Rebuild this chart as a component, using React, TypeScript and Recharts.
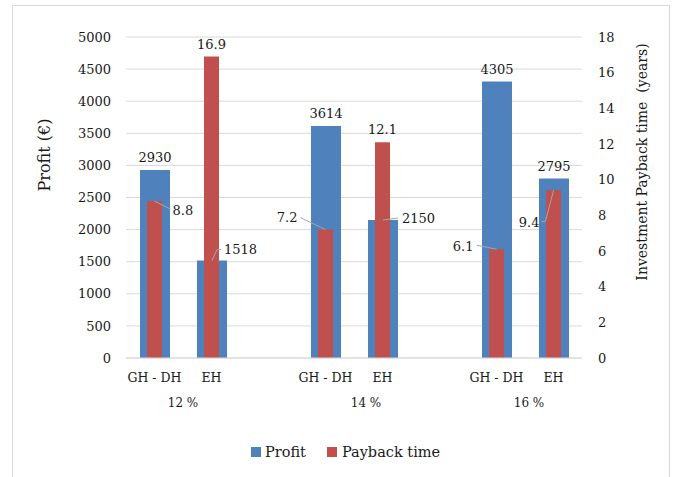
import {
  ComposedChart, Bar, XAxis, YAxis, CartesianGrid, Legend, LabelList,
} from 'recharts';

const categories = ['GH - DH', 'EH', '', 'GH - DH', 'EH', '', 'GH - DH', 'EH'];
const groups = ['12 %', '', '', '14 %', '', '', '16 %', ''];
const profit = [2930, 1518, null, 3614, 2150, null, 4305, 2795];
const payback = [8.8, 16.9, null, 7.2, 12.1, null, 6.1, 9.4];
const profitTicks = [0, 500, 1000, 1500, 2000, 2500, 3000, 3500, 4000, 4500, 5000];
const paybackTicks = [0, 2, 4, 6, 8, 10, 12, 14, 16, 18];

const data = categories.map((name, i) => ({
  name,
  group: groups[i],
  profit: profit[i],
  payback: payback[i],
}));

const FONT = '"DejaVu Serif", "Liberation Serif", serif';
const BLUE = '#4F81BD';
const RED = '#C0504D';
const TEXT = '#1a1a1a';
const GRID = '#d9d9d9';

// where each data label sits relative to the top centre of its bar
type Spec =
  | { kind: 'top' }
  | { kind: 'side'; leader: number[][]; tx: number; ty: number; anchor: 'start' | 'end' };

const TOP: Spec = { kind: 'top' };
const profitLabelSpecs: (Spec | null)[] = [
  TOP,
  { kind: 'side', leader: [[5, -11], [9, -11]], tx: 12, ty: -11, anchor: 'start' },
  null,
  TOP,
  { kind: 'side', leader: [[15, -2]], tx: 19, ty: -1, anchor: 'start' },
  null,
  TOP,
  TOP,
];
const paybackLabelSpecs: (Spec | null)[] = [
  { kind: 'side', leader: [[16, 8]], tx: 18, ty: 9, anchor: 'start' },
  TOP,
  null,
  { kind: 'side', leader: [[-25, -12]], tx: -28, ty: -12, anchor: 'end' },
  TOP,
  null,
  { kind: 'side', leader: [[-20, -4]], tx: -23, ty: -3, anchor: 'end' },
  { kind: 'side', leader: [[-8, 31], [-12, 31]], tx: -14, ty: 32, anchor: 'end' },
];

// small nudges so the group captions sit where the original put them
const groupLabelNudge = [0, 0, 0, 12, 0, 0, 4, 0];

// LabelList indexes only the bars that are drawn, so drop the gap slots
const forDrawn = (specs: (Spec | null)[], values: (number | null)[]) =>
  specs.filter((_, i) => values[i] != null);

const makeLabel = (specs: (Spec | null)[]) => (props: any) => {
  const { x, y, width, value, index } = props;
  if (value == null) return null;
  const s = specs[index] || TOP;
  const cx = Number(x) + Number(width) / 2;
  const top = Number(y);
  if (s.kind === 'top') {
    return (
      <text x={cx} y={top - 8} textAnchor="middle" fontSize={13} fontFamily={FONT} fill={TEXT}>
        {value}
      </text>
    );
  }
  const pts = [[cx, top], ...s.leader.map(([dx, dy]) => [cx + dx, top + dy])]
    .map((p) => p.join(','))
    .join(' ');
  return (
    <g>
      <polyline points={pts} fill="none" stroke="#a6a6a6" strokeWidth={1} />
      <text
        x={cx + s.tx}
        y={top + s.ty}
        textAnchor={s.anchor}
        dominantBaseline="central"
        fontSize={13}
        fontFamily={FONT}
        fill={TEXT}
      >
        {value}
      </text>
    </g>
  );
};

const CategoryTick = ({ x, y, payload, index }: any) => {
  const row = data[index];
  return (
    <g>
      <text x={x} y={y + 24} textAnchor="middle" fontSize={12.5} fontFamily={FONT} fill={TEXT}>
        {payload.value}
      </text>
      {row && row.group ? (
        <text
          x={x + 28.5 + groupLabelNudge[index]}
          y={y + 49}
          textAnchor="middle"
          fontSize={12}
          fontFamily={FONT}
          fill={TEXT}
        >
          {row.group}
        </text>
      ) : null}
    </g>
  );
};

const LegendContent = () => (
  <div
    style={{
      height: 50,
      display: 'flex',
      alignItems: 'center',
      paddingLeft: 251,
      fontFamily: FONT,
      fontSize: 14.5,
      color: TEXT,
    }}
  >
    <span style={{ width: 10, height: 10, background: BLUE, display: 'inline-block', marginRight: 4 }} />
    <span style={{ marginRight: 21 }}>Profit</span>
    <span style={{ width: 10, height: 10, background: RED, display: 'inline-block', marginRight: 5 }} />
    <span>Payback time</span>
  </div>
);

export default function App() {
  return (
    <div style={{ position: 'fixed', left: 0, top: 0, width: 674, height: 477, overflow: 'hidden', background: '#fff' }}>
      <div
        style={{
          position: 'absolute',
          left: 12,
          top: 5,
          width: 656,
          height: 500,
          border: `1px solid ${GRID}`,
        }}
      />
      <div style={{ position: 'absolute', left: 0, top: 0 }}>
        <ComposedChart
          width={674}
          height={477}
          data={data}
          margin={{ top: 37, right: 0, bottom: 0, left: 0 }}
        >
          <CartesianGrid yAxisId="left" xAxisId="a" vertical={false} stroke={GRID} />
          <XAxis
            xAxisId="a"
            dataKey="name"
            height={69}
            interval={0}
            axisLine={{ stroke: GRID }}
            tickLine={false}
            tickSize={0}
            tickMargin={0}
            tick={<CategoryTick />}
          />
          <XAxis xAxisId="b" dataKey="name" hide />
          <YAxis
            yAxisId="left"
            width={126}
            domain={[0, 5000]}
            ticks={profitTicks}
            axisLine={false}
            tickLine={false}
            tickSize={0}
            tickMargin={15}
            tick={{ fontSize: 13, fontFamily: FONT, fill: TEXT }}
            label={{
              content: () => (
                <text
                  x={44}
                  y={155}
                  transform="rotate(-90, 44, 155)"
                  textAnchor="middle"
                  dominantBaseline="central"
                  fontSize={16}
                  fontFamily={FONT}
                  fill={TEXT}
                >
                  Profit (€)
                </text>
              ),
            }}
          />
          <YAxis
            yAxisId="right"
            orientation="right"
            width={92}
            domain={[0, 18]}
            ticks={paybackTicks}
            axisLine={false}
            tickLine={false}
            tickSize={0}
            tickMargin={16}
            tick={{ fontSize: 13, fontFamily: FONT, fill: TEXT }}
            label={{
              content: () => (
                <text
                  x={642}
                  y={162}
                  transform="rotate(-90, 642, 162)"
                  textAnchor="middle"
                  dominantBaseline="central"
                  fontSize={14}
                  fontFamily={FONT}
                  fill={TEXT}
                  style={{ whiteSpace: 'pre' }}
                >
                  {'Investment Payback time  (years)'}
                </text>
              ),
            }}
          />
          <Legend verticalAlign="bottom" height={50} content={<LegendContent />} />
          <Bar
            xAxisId="a"
            yAxisId="left"
            dataKey="profit"
            name="Profit"
            fill={BLUE}
            barSize={30}
            isAnimationActive={false}
          >
            <LabelList dataKey="profit" content={makeLabel(forDrawn(profitLabelSpecs, profit))} />
          </Bar>
          <Bar
            xAxisId="b"
            yAxisId="right"
            dataKey="payback"
            name="Payback time"
            fill={RED}
            barSize={15}
            isAnimationActive={false}
          >
            <LabelList dataKey="payback" content={makeLabel(forDrawn(paybackLabelSpecs, payback))} />
          </Bar>
        </ComposedChart>
      </div>
    </div>
  );
}
